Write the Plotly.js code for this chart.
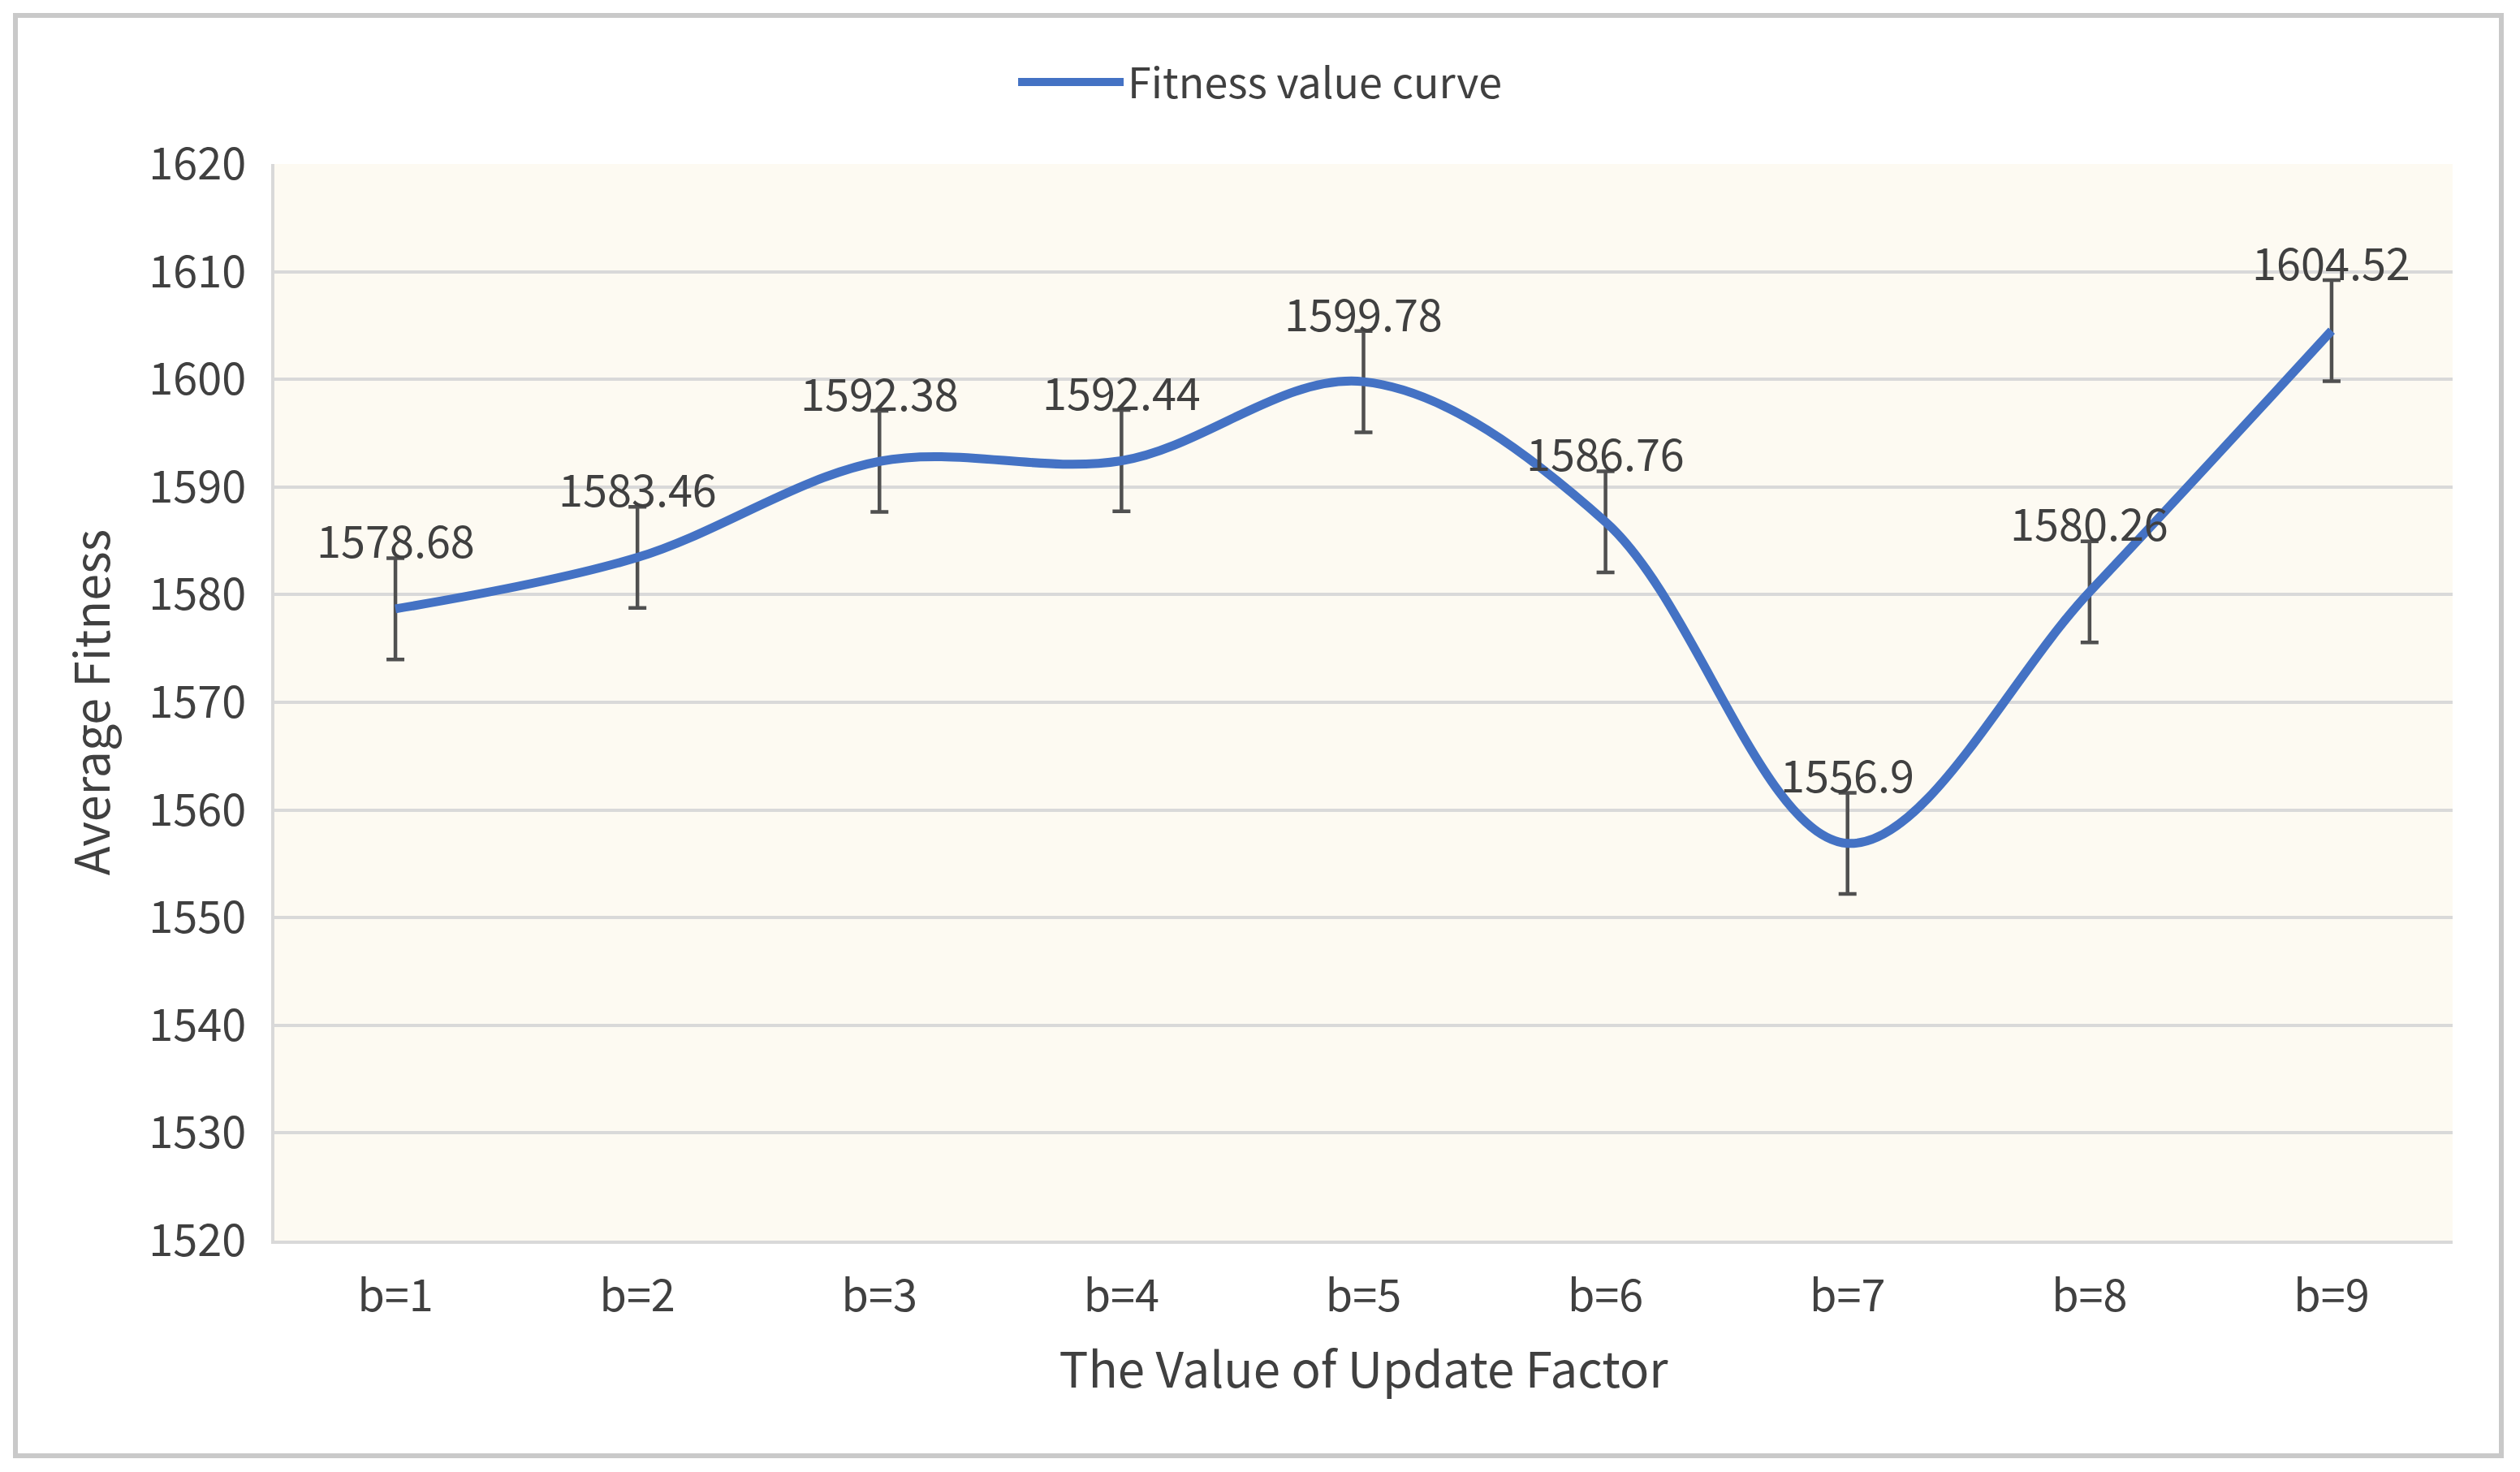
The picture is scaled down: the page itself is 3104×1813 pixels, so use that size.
<!DOCTYPE html>
<html>
<head>
<meta charset="utf-8">
<script src="https://cdn.plot.ly/plotly-3.0.1.min.js"></script>
<style>
  html, body { margin: 0; padding: 0; background: #ffffff; }
  #wrap { position: relative; width: 3104px; height: 1813px; }
  #frame { position: absolute; left: 16px; top: 16px; width: 3056px; height: 1768px; border: 6px solid #c9c9c9; pointer-events: none; }
  #chart { position: absolute; left: 0; top: 0; width: 3104px; height: 1813px; }
</style>
</head>
<body>
<div id="wrap">
  <div id="chart"></div>
  <div id="frame"></div>
</div>
<script>
// ---- data ----
const categories = ["b=1", "b=2", "b=3", "b=4", "b=5", "b=6", "b=7", "b=8", "b=9"];
const fitnessValues = [1578.68, 1583.46, 1592.38, 1592.44, 1599.78, 1586.76, 1556.9, 1580.26, 1604.52];
const errorValues = [4.7, 4.7, 4.7, 4.7, 4.7, 4.7, 4.7, 4.7, 4.7];
const seriesName = "Fitness value curve";
const yTickValues = [1520, 1530, 1540, 1550, 1560, 1570, 1580, 1590, 1600, 1610, 1620];

const FONT = '"Noto Sans CJK SC", "Noto Sans", sans-serif';
const TEXT = '#404040';

const trace = {
  type: 'scatter',
  mode: 'lines',
  name: seriesName,
  x: categories,
  y: fitnessValues,
  line: { color: '#4472C4', width: 11, shape: 'spline', smoothing: 1 },
  error_y: {
    type: 'data',
    array: errorValues,
    visible: true,
    color: '#505050',
    thickness: 4.5,
    width: 11
  },
  hoverinfo: 'x+y'
};

const annotations = categories.map((c, i) => ({
  x: c,
  y: fitnessValues[i],
  xref: 'x',
  yref: 'y',
  text: String(fitnessValues[i]),
  showarrow: false,
  yshift: 86,
  xanchor: 'center',
  yanchor: 'middle',
  font: { family: FONT, size: 54, color: TEXT }
}));

const layout = {
  width: 3104,
  height: 1813,
  margin: { l: 338, r: 83, t: 202, b: 285, pad: 0 },
  paper_bgcolor: '#ffffff',
  plot_bgcolor: '#FDFAF2',
  font: { family: FONT, size: 54, color: TEXT },
  showlegend: true,
  legend: {
    orientation: 'h',
    x: 0.4525,
    xanchor: 'center',
    y: 1.076,
    yref: 'paper',
    yanchor: 'middle',
    itemwidth: 130,
    font: { family: FONT, size: 52, color: TEXT },
    bgcolor: 'rgba(0,0,0,0)'
  },
  xaxis: {
    type: 'category',
    range: [-0.5, 8.5],
    showline: true,
    linecolor: '#d9d9d9',
    linewidth: 4,
    showgrid: false,
    zeroline: false,
    ticks: '',
    ticklabelstandoff: 18,
    tickfont: { family: FONT, size: 54, color: TEXT },
    title: { text: 'The Value of Update Factor', font: { family: FONT, size: 60, color: TEXT }, standoff: 38 },
    fixedrange: true
  },
  yaxis: {
    range: [1520, 1620],
    tickmode: 'array',
    tickvals: yTickValues,
    ticktext: yTickValues.map(String),
    showline: true,
    linecolor: '#d9d9d9',
    linewidth: 4,
    showgrid: true,
    gridcolor: '#d9d9d9',
    gridwidth: 4,
    zeroline: false,
    ticks: '',
    ticklabelstandoff: 20,
    tickfont: { family: FONT, size: 54, color: TEXT },
    title: { text: 'Average Fitness', font: { family: FONT, size: 59, color: TEXT }, standoff: 30 },
    fixedrange: true
  },
  annotations: annotations
};

Plotly.newPlot('chart', [trace], layout, { displayModeBar: false, staticPlot: true });
</script>
</body>
</html>
